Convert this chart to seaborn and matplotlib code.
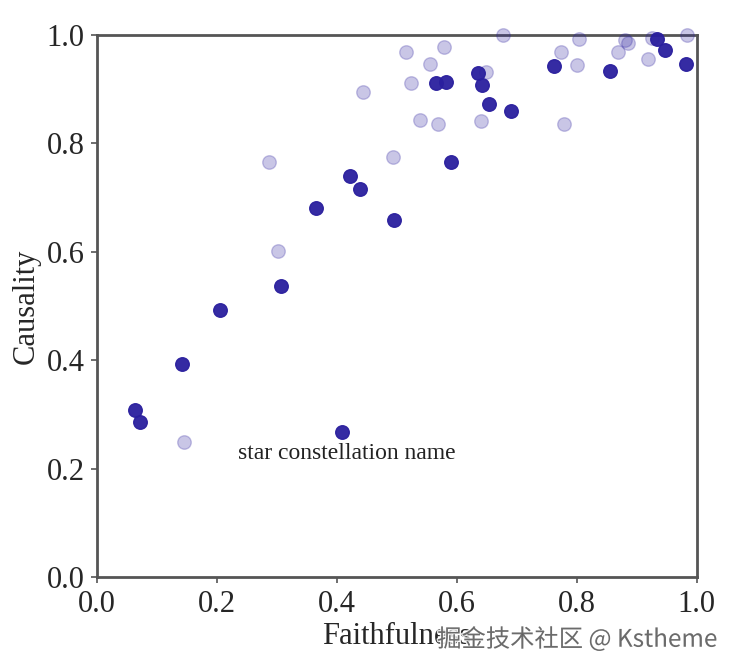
import seaborn as sns
import matplotlib.pyplot as plt
import matplotlib.patheffects as pe
import pandas as pd

# dark (highlighted) points
dark_x = [0.063, 0.072, 0.142, 0.205, 0.307, 0.365, 0.422, 0.438, 0.495, 0.408, 0.565,
          0.582, 0.590, 0.635, 0.642, 0.653, 0.690, 0.762, 0.855, 0.933, 0.947, 0.982]
dark_y = [0.308, 0.286, 0.393, 0.493, 0.537, 0.680, 0.740, 0.716, 0.658, 0.267, 0.911,
          0.914, 0.765, 0.930, 0.908, 0.873, 0.860, 0.942, 0.934, 0.993, 0.973, 0.946]

# faded points
light_x = [0.145, 0.287, 0.301, 0.443, 0.493, 0.515, 0.524, 0.538, 0.556, 0.569, 0.578, 0.641,
           0.649, 0.677, 0.773, 0.778, 0.801, 0.803, 0.869, 0.881, 0.885, 0.919, 0.926, 0.983]
light_y = [0.250, 0.766, 0.601, 0.895, 0.775, 0.968, 0.911, 0.843, 0.946, 0.835, 0.978, 0.841,
           0.932, 1.000, 0.968, 0.835, 0.945, 0.992, 0.968, 0.991, 0.985, 0.956, 0.994, 1.000]

annot_text = "star constellation name"
annot_pos = (0.235, 0.229)

sns.set_style("ticks")
plt.rcParams["font.family"] = ["Liberation Serif", "DejaVu Serif"]

color = "#2a1f9e"
df_dark = pd.DataFrame({"Faithfulness": dark_x, "Causality": dark_y})
df_light = pd.DataFrame({"Faithfulness": light_x, "Causality": light_y})

fig, ax = plt.subplots(figsize=(7.35, 6.72), dpi=100)
fig.subplots_adjust(left=0.132, right=0.948, top=0.948, bottom=0.141)

sns.scatterplot(data=df_light, x="Faithfulness", y="Causality", ax=ax, color=color,
                alpha=0.25, s=95, edgecolor=color, linewidth=1, clip_on=False, zorder=3)
sns.scatterplot(data=df_dark, x="Faithfulness", y="Causality", ax=ax, color=color,
                alpha=0.95, s=95, edgecolor=color, linewidth=1, clip_on=False, zorder=4)

ax.text(annot_pos[0], annot_pos[1], annot_text, fontsize=17, va="center", ha="left", color="#222222")

ax.set_xlim(0, 1)
ax.set_ylim(0, 1)
ax.set_xticks([0.0, 0.2, 0.4, 0.6, 0.8, 1.0])
ax.set_yticks([0.0, 0.2, 0.4, 0.6, 0.8, 1.0])
ax.tick_params(labelsize=22, length=4, width=1.2, color="#555555", pad=5)
ax.set_xlabel("Faithfulness", fontsize=22, labelpad=2)
ax.set_ylabel("Causality", fontsize=22, labelpad=4)
for sp in ax.spines.values():
    sp.set_color("#555555")
    sp.set_linewidth(2)

# site watermark
fig.text(0.976, 0.048, "掘金技术社区 @ Kstheme", ha="right", va="center", fontsize=17.5,
         color="#555555", alpha=0.85, family=["Noto Sans CJK SC", "DejaVu Sans"],
         path_effects=[pe.withStroke(linewidth=2, foreground="white")])

fig.savefig("out.png", dpi=100)
